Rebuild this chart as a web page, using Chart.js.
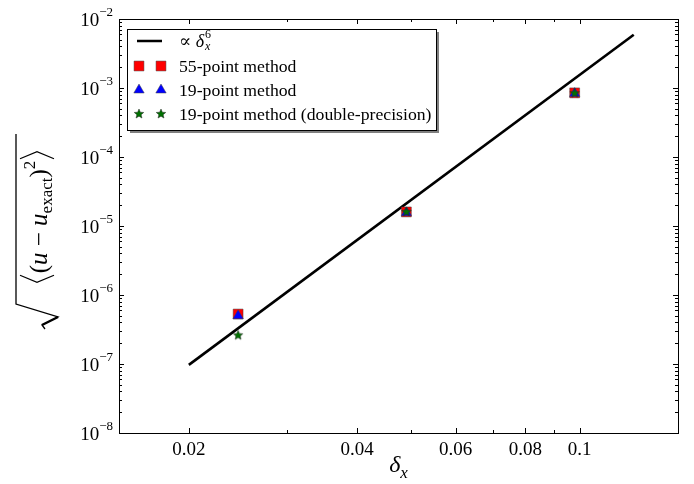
<!DOCTYPE html>
<html>
<head>
<meta charset="utf-8">
<script src="https://cdn.jsdelivr.net/npm/chart.js@4.4.1/dist/chart.umd.min.js"></script>
<style>
  html, body { margin: 0; padding: 0; background: #fff; }
</style>
</head>
<body>
<canvas id="myChart" width="694" height="484"></canvas>
<script>
// data
const deltaX = [0.0245, 0.049, 0.098];
const err55 = [5.3e-7, 1.6e-5, 8.5e-4];
const err19 = [5.0e-7, 1.55e-5, 8.3e-4];
const err19dp = [2.6e-7, 1.6e-5, 8.4e-4];
const fitX = [0.02, 0.125];
const fitY = [9.7e-8, 5.9e-3];
const xTicks = [0.02, 0.04, 0.06, 0.08, 0.1];
const xMinor = [0.03, 0.05, 0.07, 0.09];
const yTicks = [1e-8, 1e-7, 1e-6, 1e-5, 1e-4, 1e-3, 1e-2];
const yTickExp = ['−8', '−7', '−6', '−5', '−4', '−3', '−2'];
const seriesNames = ['55-point method', '19-point method', '19-point method (double-precision)'];

const SERIF = "'Liberation Serif', 'DejaVu Serif', serif";

function pts(xs, ys) {
  return xs.map((x, i) => ({ x: x, y: ys[i] }));
}

function starImage(r, fill) {
  const s = Math.ceil(r * 2 + 2);
  const c = document.createElement('canvas');
  c.width = c.height = s;
  const g = c.getContext('2d');
  g.beginPath();
  for (let i = 0; i < 10; i++) {
    const rr = i % 2 ? r * 0.45 : r;
    const a = -Math.PI / 2 + i * Math.PI / 5;
    g.lineTo(s / 2 + rr * Math.cos(a), s / 2 + rr * Math.sin(a));
  }
  g.closePath();
  g.fillStyle = fill;
  g.fill();
  g.strokeStyle = '#222';
  g.lineWidth = 0.5;
  g.stroke();
  return c;
}
const star = starImage(5, '#007000');

// frame + inward ticks on all four sides, y tick labels with exponents
const frameTicks = {
  id: 'frameTicks',
  afterDraw(chart) {
    const { ctx, chartArea: a, scales } = chart;
    const x = scales.x, y = scales.y;
    ctx.save();
    ctx.strokeStyle = '#000';
    ctx.lineWidth = 1;
    ctx.strokeRect(a.left + 0.5, a.top + 0.5, a.right - a.left, a.bottom - a.top);
    ctx.beginPath();
    const yMinor = [];
    for (let k = -8; k < -2; k++) for (let m = 2; m <= 9; m++) yMinor.push(m * Math.pow(10, k));
    yTicks.forEach(v => {
      const p = Math.round(y.getPixelForValue(v)) + 0.5;
      ctx.moveTo(a.left, p); ctx.lineTo(a.left + 5, p);
      ctx.moveTo(a.right, p); ctx.lineTo(a.right - 5, p);
    });
    yMinor.forEach(v => {
      const p = Math.round(y.getPixelForValue(v)) + 0.5;
      ctx.moveTo(a.left, p); ctx.lineTo(a.left + 3, p);
      ctx.moveTo(a.right, p); ctx.lineTo(a.right - 3, p);
    });
    xTicks.forEach(v => {
      const p = Math.round(x.getPixelForValue(v)) + 0.5;
      ctx.moveTo(p, a.bottom); ctx.lineTo(p, a.bottom - 5);
      ctx.moveTo(p, a.top); ctx.lineTo(p, a.top + 5);
    });
    xMinor.forEach(v => {
      const p = Math.round(x.getPixelForValue(v)) + 0.5;
      ctx.moveTo(p, a.bottom); ctx.lineTo(p, a.bottom - 3);
      ctx.moveTo(p, a.top); ctx.lineTo(p, a.top + 3);
    });
    ctx.stroke();

    // y tick labels 10^n
    ctx.fillStyle = '#000';
    ctx.textBaseline = 'middle';
    ctx.textAlign = 'left';
    yTicks.forEach((v, i) => {
      const p = y.getPixelForValue(v);
      ctx.font = '13px ' + SERIF;
      const w2 = ctx.measureText(yTickExp[i]).width;
      ctx.font = '19px ' + SERIF;
      const w1 = ctx.measureText('10').width;
      const right = a.left - 6;
      ctx.fillText('10', right - w2 - w1, p + 2);
      ctx.font = '13px ' + SERIF;
      ctx.fillText(yTickExp[i], right - w2, p - 6);
    });
    ctx.restore();
  }
};

// axis titles (math set by hand)
const axisTitles = {
  id: 'axisTitles',
  afterDraw(chart) {
    const { ctx, chartArea: a } = chart;
    ctx.save();
    ctx.fillStyle = '#000';
    ctx.textBaseline = 'alphabetic';
    ctx.textAlign = 'left';

    // x title: delta_x
    const cx = (a.left + a.right) / 2;
    ctx.font = 'italic 24px ' + SERIF;
    const wd = ctx.measureText('δ').width;
    ctx.font = 'italic 17px ' + SERIF;
    const wx = ctx.measureText('x').width;
    let x0 = cx - (wd + wx) / 2;
    ctx.font = 'italic 24px ' + SERIF;
    ctx.fillText('δ', x0, 472);
    ctx.font = 'italic 17px ' + SERIF;
    ctx.fillText('x', x0 + wd, 478);

    // y title: sqrt(<(u - u_exact)^2>)
    ctx.translate(44, (a.top + a.bottom) / 2);
    ctx.rotate(-Math.PI / 2);
    const big = '25px ' + SERIF, bigI = 'italic 25px ' + SERIF, small = '17px ' + SERIF;
    const parts = [
      ['bra'], [big, '(', 0], [bigI, 'u', 0], [big, ' − ', 0], [bigI, 'u', 0],
      [small, 'exact', 5], [big, ')', 0], [small, '2', -12], ['ket']
    ];
    let total = 0;
    parts.forEach(p => {
      if (p.length === 1) { p.w = 10; } else { ctx.font = p[0]; p.w = ctx.measureText(p[1]).width; }
      total += p.w;
    });
    let lx = -74 + (166 - total) / 2;
    ctx.lineWidth = 1.2;
    ctx.strokeStyle = '#000';
    parts.forEach(p => {
      if (p[0] === 'bra') {
        ctx.beginPath(); ctx.moveTo(lx + 8, -24); ctx.lineTo(lx + 1, -7); ctx.lineTo(lx + 8, 10); ctx.stroke();
      } else if (p[0] === 'ket') {
        ctx.beginPath(); ctx.moveTo(lx + 2, -24); ctx.lineTo(lx + 9, -7); ctx.lineTo(lx + 2, 10); ctx.stroke();
      } else {
        ctx.font = p[0];
        ctx.fillText(p[1], lx, 3 + p[2]);
      }
      lx += p.w;
    });
    // radical sign
    ctx.beginPath();
    ctx.lineWidth = 1.3;
    ctx.moveTo(-103, 1);
    ctx.lineTo(-99, -2);
    ctx.lineTo(-91, 14);
    ctx.lineTo(-78, -28);
    ctx.lineTo(92, -28);
    ctx.stroke();
    ctx.beginPath();
    ctx.lineWidth = 2.4;
    ctx.moveTo(-99, -2);
    ctx.lineTo(-91, 14);
    ctx.stroke();
    ctx.restore();
  }
};

// legend box in the matplotlib style (two markers per entry, shadow)
const boxLegend = {
  id: 'boxLegend',
  afterDraw(chart) {
    const ctx = chart.ctx;
    const bx = 127, by = 29, bw = 309, bh = 101;
    ctx.save();
    ctx.fillStyle = '#808080';
    ctx.fillRect(bx + 3, by + 3, bw, bh);
    ctx.fillStyle = '#fff';
    ctx.fillRect(bx, by, bw, bh);
    ctx.strokeStyle = '#000';
    ctx.lineWidth = 1;
    ctx.strokeRect(bx + 0.5, by + 0.5, bw, bh);

    const rows = [41, 66, 90, 114];
    const tx = 179;
    ctx.fillStyle = '#000';
    ctx.textBaseline = 'middle';
    // line entry
    ctx.lineWidth = 2.5;
    ctx.beginPath(); ctx.moveTo(137, rows[0]); ctx.lineTo(162, rows[0]); ctx.stroke();
    ctx.font = '18px ' + SERIF;
    ctx.fillText('∝', tx, rows[0] + 1);
    const wp = ctx.measureText('∝ ').width;
    ctx.font = 'italic 18px ' + SERIF;
    ctx.fillText('δ', tx + wp, rows[0] + 1);
    const wd = ctx.measureText('δ').width;
    ctx.font = 'italic 12px ' + SERIF;
    ctx.fillText('x', tx + wp + wd + 1, rows[0] + 6);
    ctx.font = '12px ' + SERIF;
    ctx.fillText('6', tx + wp + wd + 1, rows[0] - 6);

    const ds = chart.data.datasets;
    for (let i = 1; i <= 3; i++) {
      const d = ds[i];
      [139, 161].forEach(mx => {
        ctx.fillStyle = d.backgroundColor;
        ctx.strokeStyle = d.borderColor;
        ctx.lineWidth = d.borderWidth;
        Chart.helpers.drawPoint(ctx, {
          pointStyle: d.pointStyle, radius: d.pointRadius, rotation: 0, borderWidth: d.borderWidth
        }, mx, rows[i]);
      });
      ctx.fillStyle = '#000';
      ctx.font = '17.7px ' + SERIF;
      ctx.fillText(seriesNames[i - 1], tx, rows[i] + 1);
    }
    ctx.restore();
  }
};

const ctx = document.getElementById('myChart').getContext('2d');
const chart = new Chart(ctx, {
  type: 'scatter',
  data: {
    datasets: [
      {
        label: '∝ δx^6',
        data: pts(fitX, fitY),
        showLine: true,
        borderColor: '#000',
        borderWidth: 2.6,
        pointRadius: 0,
        order: 4
      },
      {
        label: seriesNames[0],
        data: pts(deltaX, err55),
        pointStyle: 'rect',
        pointRadius: 7,
        backgroundColor: '#ff0000',
        borderColor: '#444',
        borderWidth: 0.5,
        order: 3
      },
      {
        label: seriesNames[1],
        data: pts(deltaX, err19),
        pointStyle: 'triangle',
        pointRadius: 6,
        backgroundColor: '#0000ff',
        borderColor: '#444',
        borderWidth: 0.5,
        order: 2
      },
      {
        label: seriesNames[2],
        data: pts(deltaX, err19dp),
        pointStyle: star,
        pointRadius: 5,
        backgroundColor: '#007000',
        borderColor: '#222',
        borderWidth: 0.5,
        order: 1
      }
    ]
  },
  options: {
    responsive: false,
    animation: false,
    layout: { padding: { left: 0, right: 16, top: 19, bottom: 0 } },
    plugins: {
      legend: { display: false },
      tooltip: { enabled: false }
    },
    scales: {
      x: {
        type: 'logarithmic',
        min: 0.015,
        max: 0.15,
        grid: { display: false, drawTicks: false },
        border: { display: false },
        afterBuildTicks: s => { s.ticks = xTicks.map(v => ({ value: v })); },
        afterFit: s => { s.height = 51; },
        ticks: {
          autoSkip: false,
          maxRotation: 0,
          padding: 6,
          color: '#000',
          font: { family: SERIF, size: 19 },
          callback: v => String(v)
        }
      },
      y: {
        type: 'logarithmic',
        min: 1e-8,
        max: 1e-2,
        grid: { display: false, drawTicks: false },
        border: { display: false },
        afterBuildTicks: s => { s.ticks = yTicks.map(v => ({ value: v })); },
        afterFit: s => { s.width = 119; },
        ticks: { display: false }
      }
    }
  },
  plugins: [frameTicks, axisTitles, boxLegend]
});
</script>
</body>
</html>
